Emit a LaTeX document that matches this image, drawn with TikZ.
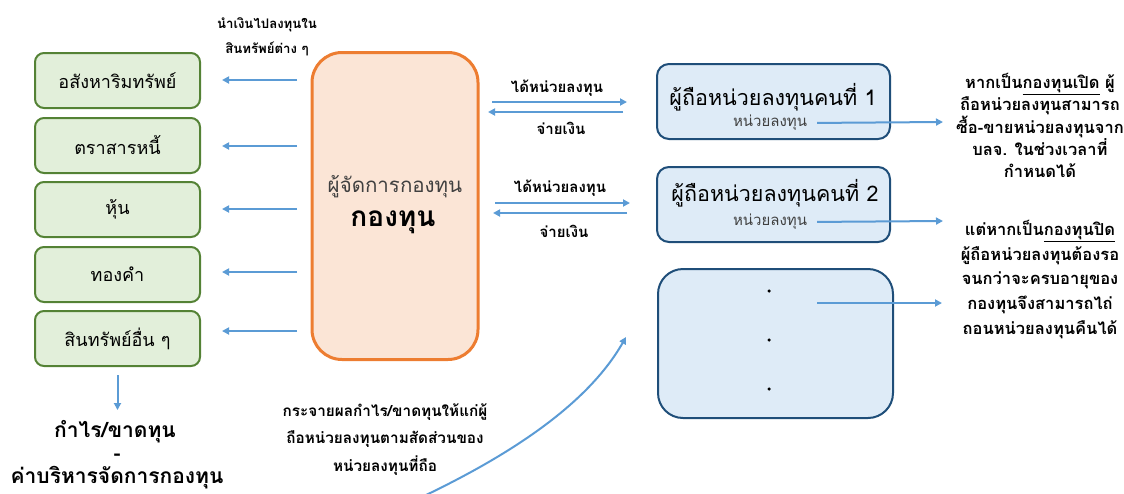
\documentclass[tikz,border=0pt]{standalone}
\usepackage{fontspec}
\setmainfont[Script=Thai]{Loma}
\usetikzlibrary{arrows.meta}
\definecolor{gfill}{HTML}{E2EFDA}
\definecolor{gline}{HTML}{548235}
\definecolor{ofill}{HTML}{FBE5D6}
\definecolor{oline}{HTML}{ED7D31}
\definecolor{bfill}{HTML}{DEEBF7}
\definecolor{bline}{HTML}{1F4E79}
\definecolor{arrc}{HTML}{5B9BD5}
\definecolor{dtext}{HTML}{404040}
\begin{document}
\begin{tikzpicture}[x=1pt,y=-1pt,
  every node/.style={inner sep=0pt,outer sep=0pt},
  gbox/.style={draw=gline,fill=gfill,line width=2pt,rounded corners=9pt,minimum width=165pt,minimum height=55pt,font=\fontsize{18}{20}\selectfont},
  obox/.style={draw=oline,fill=ofill,line width=3pt,rounded corners=30pt,minimum width=166pt,minimum height=307pt},
  bbox/.style={draw=bline,fill=bfill,line width=2pt,rounded corners=12pt,minimum width=233pt,minimum height=75pt},
  btitle/.style={font=\fontsize{21.5}{23}\selectfont},
  bsub/.style={font=\fontsize{15}{17}\selectfont,text=dtext},
  lbl/.style={font=\bfseries\fontsize{15}{17}\selectfont},
  small/.style={font=\bfseries\fontsize{13.2}{25}\selectfont,align=center},
  arr/.style={draw=arrc,line width=2pt,-{Triangle[length=7pt,width=7pt]}},
  dotn/.style={circle,fill=black,minimum size=3.5pt}
]
\useasboundingbox (0,0) rectangle (1124,493);

% green boxes
\node[gbox] (g1) at (117.5,80.5) {อสังหาริมทรัพย์};
\node[gbox] (g2) at (117.5,145.5) {ตราสารหนี้};
\node[gbox] (g3) at (117.5,209.5) {หุ้น};
\node[gbox] (g4) at (117.5,274.5) {ทองคำ};
\node[gbox] (g5) at (117.5,338.5) {สินทรัพย์อื่น ๆ};

% top label
\node[small] (top) at (267,37) {นำเงินไปลงทุนใน\\สินทรัพย์ต่าง ๆ};

% orange box
\node[obox] (o) at (395,206) {};
\node[text=dtext,font=\fontsize{20.5}{22}\selectfont] (om) at (395,187) {ผู้จัดการกองทุน};
\node[font=\bfseries\fontsize{28}{30}\selectfont] (of) at (393,222) {กองทุน};

% arrows to assets
\draw[arr,shorten <=15pt,shorten >=22pt] (o.west |- 0,80) -- (g1.east |- 0,80);
\draw[arr,shorten <=15pt,shorten >=22pt] (o.west |- 0,146) -- (g2.east |- 0,146);
\draw[arr,shorten <=15pt,shorten >=22pt] (o.west |- 0,209) -- (g3.east |- 0,209);
\draw[arr,shorten <=15pt,shorten >=22pt] (o.west |- 0,272) -- (g4.east |- 0,272);
\draw[arr,shorten <=15pt,shorten >=22pt] (o.west |- 0,331) -- (g5.east |- 0,331);

% blue boxes
\node[bbox] (b1) at (773.5,101.5) {};
\node[bbox] (b2) at (773.5,204.5) {};
\node[bbox,minimum width=235pt,minimum height=149pt,rounded corners=25pt] (b3) at (775.5,343.5) {};
\node[btitle] (b1t) at (773,97) {ผู้ถือหน่วยลงทุนคนที่ 1};
\node[bsub] (b1s) at (770,123) {หน่วยลงทุน};
\node[btitle] (b2t) at (775,193) {ผู้ถือหน่วยลงทุนคนที่ 2};
\node[bsub] (b2s) at (770,222) {หน่วยลงทุน};
\node[dotn] (d1) at (769,291) {};
\node[dotn] (d2) at (769,340) {};
\node[dotn] (d3) at (769,389) {};

% exchange arrows
\draw[arr,shorten <=14pt,shorten >=30pt] (o.east |- 0,102) -- (b1.west |- 0,102);
\draw[arr,shorten <=34pt,shorten >=10pt] (b1.west |- 0,112) -- (o.east |- 0,112);
\node[lbl] (l1) at (557,88) {ได้หน่วยลงทุน};
\node[lbl] (l2) at (561,128) {จ่ายเงิน};
\draw[arr,shorten <=17pt,shorten >=27pt] (o.east |- 0,203) -- (b2.west |- 0,203);
\draw[arr,shorten <=30pt,shorten >=15pt] (b2.west |- 0,213) -- (o.east |- 0,213);
\node[lbl] (l3) at (560,188) {ได้หน่วยลงทุน};
\node[lbl] (l4) at (564,231) {จ่ายเงิน};

% right notes
\node[font=\bfseries\fontsize{16.5}{22.3}\selectfont,align=center] (r1) at (1040,125.5) {หากเป็น\underline{กองทุนเปิด} ผู้\\ถือหน่วยลงทุนสามารถ\\ซื้อ-ขายหน่วยลงทุนจาก\\บลจ. ในช่วงเวลาที่\\กำหนดได้};
\node[font=\bfseries\fontsize{16.5}{24.7}\selectfont,align=center] (r2) at (1040,279.5) {แต่หากเป็น\underline{กองทุนปิด}\\ผู้ถือหน่วยลงทุนต้องรอ\\จนกว่าจะครบอายุของ\\กองทุนจึงสามารถไถ่\\ถอนหน่วยลงทุนคืนได้};
\coordinate (t1) at (943,122);
\coordinate (t2) at (943,221);
\coordinate (t3) at (942,303);
\draw[arr,shorten <=10pt] (b1s.east) -- (t1);
\draw[arr,shorten <=10pt] (b2s.east) -- (t2);
\coordinate (s3) at (817,303);
\draw[arr] (s3) -- (t3);

% bottom left
\node[font=\bfseries\fontsize{21}{23}\selectfont] (pl) at (115,432) {กำไร/ขาดทุน};
\node[font=\bfseries\fontsize{21}{23}\selectfont] (mi) at (117,457) {-};
\node[font=\bfseries\fontsize{21}{23}\selectfont] (ce) at (117,478) {ค่าบริหารจัดการกองทุน};
\draw[arr,shorten <=9pt] (g5.south) -- (g5.south |- 0,410);

% distribution text and curve
\node[font=\bfseries\fontsize{15.3}{27.5}\selectfont,align=center] (dist) at (385,439.5) {กระจายผลกำไร/ขาดทุนให้แก่ผู้\\ถือหน่วยลงทุนตามสัดส่วนของ\\หน่วยลงทุนที่ถือ};
\coordinate (c0) at (424,496);
\coordinate (c1) at (626,337);
\draw[arr] (c0) .. controls (520,450) and (590,400) .. (c1);
\end{tikzpicture}
\end{document}
